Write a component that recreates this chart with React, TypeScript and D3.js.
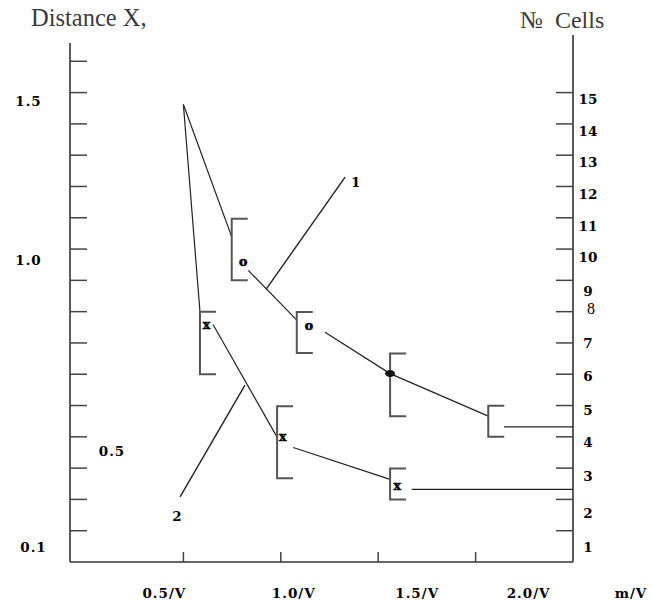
import React from 'react';
import * as d3 from 'd3';

// axis ticks and labels
const xTicks = [0.5, 1.0, 1.5, 2.0];
const xTickLabels = ['0.5/V', '1.0/V', '1.5/V', '2.0/V'];
const xUnitLabel = 'm/V';
const yTicks = [0.1, 0.2, 0.3, 0.4, 0.5, 0.6, 0.7, 0.8, 0.9, 1.0, 1.1, 1.2, 1.3, 1.4, 1.5, 1.6];
const yLabelValues = [1.5, 1.0, 0.5, 0.1];
const yLabels = ['1.5', '1.0', '0.5', '0.1'];
const cellValues = [15, 14, 13, 12, 11, 10, 9, 8, 7, 6, 5, 4, 3, 2, 1];

// curve 1 ("o") — brackets: x, low, high
const s1X = [0.748, 1.082, 1.561, 2.065];
const s1Lo = [0.9, 0.668, 0.466, 0.4];
const s1Hi = [1.097, 0.799, 0.666, 0.499];
const s1MarkX = [0.807, 1.145, 1.561];
const s1MarkY = [0.959, 0.757, 0.602];
const s1Lines = [
  [[0.5, 1.462], [0.748, 1.039]],
  [[0.833, 0.932], [1.082, 0.773]],
  [[1.227, 0.734], [1.561, 0.602], [2.065, 0.466]],
  [[2.146, 0.432], [2.5, 0.432]],
];

// curve 2 ("x")
const s2X = [0.585, 0.981, 1.561];
const s2Lo = [0.6, 0.268, 0.2];
const s2Hi = [0.8, 0.498, 0.299];
const s2MarkX = [0.619, 1.01, 1.598];
const s2MarkY = [0.759, 0.4, 0.246];
const s2Lines = [
  [[0.5, 1.462], [0.585, 0.8]],
  [[0.652, 0.759], [0.981, 0.399]],
  [[1.064, 0.366], [1.561, 0.264]],
  [[1.672, 0.232], [2.5, 0.232]],
];

// leader lines for the curve numbers
const leaderLines = [
  [[1.33, 1.23], [0.924, 0.871]],
  [[0.816, 0.565], [0.483, 0.208]],
];
const leaderLabels = ['1', '2'];
const leaderLabelX = [1.385, 0.467];
const leaderLabelY = [1.215, 0.148];

const W = 652;
const H = 602;
const leftAxisX = 70;
const rightAxisX = 573;
const axisBottom = 562;
const tickLen = 17;
const capLen = 16;
const xLabelShift = [-19, 13, 39, 53];
const yLabelPos = [
  { x: 28.5, dy: 8 },
  { x: 28.5, dy: 11 },
  { x: 112, dy: 45 },
  { x: 33.5, dy: 16 },
];
const cellDy = [6, 7, 7, 8, 8, 8, 11, -3, 0, 2, 4, 5, 8, 14, 16];

const boldFont = '"DejaVu Serif", serif';

export default function App() {
  const x = d3.scaleLinear().domain([0, 2.5]).range([86, rightAxisX]);
  const y = d3.scaleLinear().domain([0, 1.6]).range([axisBottom, 61.3]);
  const line = d3.line<number[]>().x(d => x(d[0])).y(d => y(d[1]));

  const bracket = (bx: number, lo: number, hi: number, key: string) => {
    const px = x(bx);
    return (
      <path
        key={key}
        d={`M${px + capLen},${y(hi)}H${px}V${y(lo)}H${px + capLen}`}
        fill="none"
        stroke="#555"
        strokeWidth={2}
      />
    );
  };

  return (
    <svg width={W} height={H} style={{ position: 'absolute', left: 0, top: 0, background: '#fff' }}>
      {/* titles */}
      <text x={31} y={26} fontFamily='"Liberation Serif", serif' fontSize={24.5} fill="#3a3a3a">Distance X,</text>
      <text x={520} y={28} fontFamily='"Liberation Serif", serif' fontSize={24} fill="#3a3a3a" style={{ whiteSpace: 'pre' }}>№  Cells</text>

      {/* axes */}
      <g stroke="#333" strokeWidth={1.6} fill="none">
        <line x1={leftAxisX} y1={43} x2={leftAxisX} y2={axisBottom} />
        <line x1={rightAxisX} y1={35} x2={rightAxisX} y2={axisBottom} />
        <line x1={leftAxisX} y1={axisBottom} x2={rightAxisX} y2={axisBottom} />
      </g>
      <g stroke="#444" strokeWidth={1.5}>
        {yTicks.map(t => (
          <line key={'l' + t} x1={leftAxisX} x2={leftAxisX + tickLen} y1={y(t)} y2={y(t)} />
        ))}
        {cellValues.map(c => (
          <line key={'r' + c} x1={rightAxisX - tickLen} x2={rightAxisX} y1={y(c / 10)} y2={y(c / 10)} />
        ))}
        {xTicks.map(t => (
          <line key={'b' + t} x1={x(t)} x2={x(t)} y1={axisBottom} y2={axisBottom - 10} />
        ))}
      </g>

      {/* tick labels */}
      <g fontFamily={boldFont} fontWeight="bold" fontSize={13.5} fill="#000" textAnchor="middle" dominantBaseline="central">
        {xTickLabels.map((l, i) => (
          <text key={l} x={x(xTicks[i]) + xLabelShift[i]} y={593} letterSpacing={1}>{l}</text>
        ))}
        <text x={631} y={593} letterSpacing={1}>{xUnitLabel}</text>
        {yLabels.map((l, i) => (
          <text key={l} x={yLabelPos[i].x} y={y(yLabelValues[i]) + yLabelPos[i].dy} letterSpacing={1}>{l}</text>
        ))}
        {cellValues.map((c, i) =>
          c === 8 ? (
            <text key={c} x={591} y={y(c / 10) + cellDy[i]} fontFamily='"Liberation Serif", serif' fontWeight="normal" fontSize={16}>{c}</text>
          ) : (
            <text key={c} x={588} y={y(c / 10) + cellDy[i]}>{c}</text>
          )
        )}
      </g>

      {/* curves */}
      <g fill="none" stroke="#222" strokeWidth={1.2}>
        {s1Lines.map((seg, i) => <path key={'s1' + i} d={line(seg) || ''} />)}
        {s2Lines.map((seg, i) => <path key={'s2' + i} d={line(seg) || ''} />)}
        {leaderLines.map((seg, i) => <path key={'ld' + i} d={line(seg) || ''} strokeWidth={1.4} />)}
      </g>

      {/* error brackets */}
      {s1X.map((bx, i) => bracket(bx, s1Lo[i], s1Hi[i], 'b1' + i))}
      {s2X.map((bx, i) => bracket(bx, s2Lo[i], s2Hi[i], 'b2' + i))}

      {/* markers */}
      <g fontFamily={boldFont} fontWeight="bold" fontSize={12.5} fill="#000" textAnchor="middle" dominantBaseline="central">
        {s1MarkX.map((mx, i) =>
          i === 2 ? (
            <ellipse key={'m1' + i} cx={x(mx)} cy={y(s1MarkY[i])} rx={5} ry={3.5} fill="#111" />
          ) : (
            <text key={'m1' + i} x={x(mx)} y={y(s1MarkY[i])} stroke="#000" strokeWidth={0.6}>o</text>
          )
        )}
        {s2MarkX.map((mx, i) => (
          <text key={'m2' + i} x={x(mx)} y={y(s2MarkY[i])} stroke="#000" strokeWidth={0.5}>x</text>
        ))}
        {leaderLabels.map((l, i) => (
          <text key={'ll' + l} x={x(leaderLabelX[i])} y={y(leaderLabelY[i])} fontSize={13.5}>{l}</text>
        ))}
      </g>
    </svg>
  );
}
